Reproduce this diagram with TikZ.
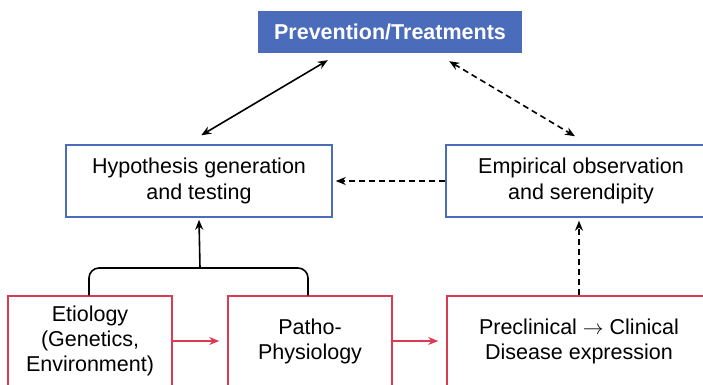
\documentclass[tikz,border=0pt]{standalone}
\usepackage{fontspec}
\setmainfont{Liberation Sans}
\usetikzlibrary{arrows.meta}
\definecolor{boxblue}{RGB}{75,108,186}
\definecolor{boxred}{RGB}{220,58,82}
\tikzset{
  bluebox/.style={draw=boxblue, line width=1.5pt, align=center, font=\fontsize{21.5}{25.5}\selectfont, inner sep=0pt},
  redbox/.style={draw=boxred, line width=1.5pt, align=center, font=\fontsize{21.5}{25}\selectfont, inner sep=0pt},
  blk/.style={line width=1.6pt, black},
  tip/.style={-{Stealth[length=10pt,width=8pt]}},
  dtip/.style={{Stealth[length=10pt,width=8pt]}-{Stealth[length=10pt,width=8pt]}},
  dsh/.style={dash pattern=on 6pt off 4pt},
  redarrow/.style={draw=boxred, line width=1.5pt, -{Stealth[length=10pt,width=8pt]}}
}
\begin{document}
\begin{tikzpicture}[x=1pt,y=-1pt]
\useasboundingbox (0,0) rectangle (703,384);
\clip (0,0) rectangle (703,384);
\node[fill=boxblue, text=white, font=\bfseries\fontsize{21.5}{25}\selectfont, minimum width=264pt, minimum height=42pt, inner sep=0pt] (prev) at (390,32) {Prevention/Treatments};
\node[bluebox, minimum width=266pt, minimum height=72pt] (hyp) at (199,181) {Hypothesis generation\\and testing};
\node[bluebox, minimum width=270pt, minimum height=72pt] (emp) at (581,181) {Empirical observation\\and serendipity};
\node[redbox, minimum width=164pt, minimum height=90pt] (eti) at (90,341) {Etiology\\(Genetics,\\Environment)};
\node[redbox, minimum width=164pt, minimum height=90pt] (pat) at (310,341) {Patho-\\Physiology};
\node[redbox, minimum width=264pt, minimum height=90pt] (pre) at (579,341) {Preclinical $\rightarrow$ Clinical\\Disease expression};
% arrows
\draw[blk, dtip] ([shift={(70,7)}]prev.south west) -- ([shift={(136,-9)}]hyp.north west);
\draw[blk, dtip, dsh] ([shift={(-73,8)}]prev.south east) -- ([shift={(-6,-8)}]emp.north);
\draw[blk, tip, dsh] (emp.west) -- ([xshift=3pt]hyp.east);
\draw[blk, tip, dsh] (pre.north) -- ([yshift=-3pt]pre.north |- emp.south);
\draw[redarrow] (eti.east) -- ([xshift=-8pt]pat.west);
\draw[redarrow] (pat.east) -- ([xshift=-8pt]pre.west);
% bracket
\coordinate (brk) at (200,268);
\draw[blk, rounded corners=10pt] ([xshift=-1pt]eti.north) |- (brk) -| ([xshift=-2pt]pat.north);
\draw[blk, tip] (brk) -- ([yshift=-2pt]hyp.south);
\end{tikzpicture}
\end{document}
